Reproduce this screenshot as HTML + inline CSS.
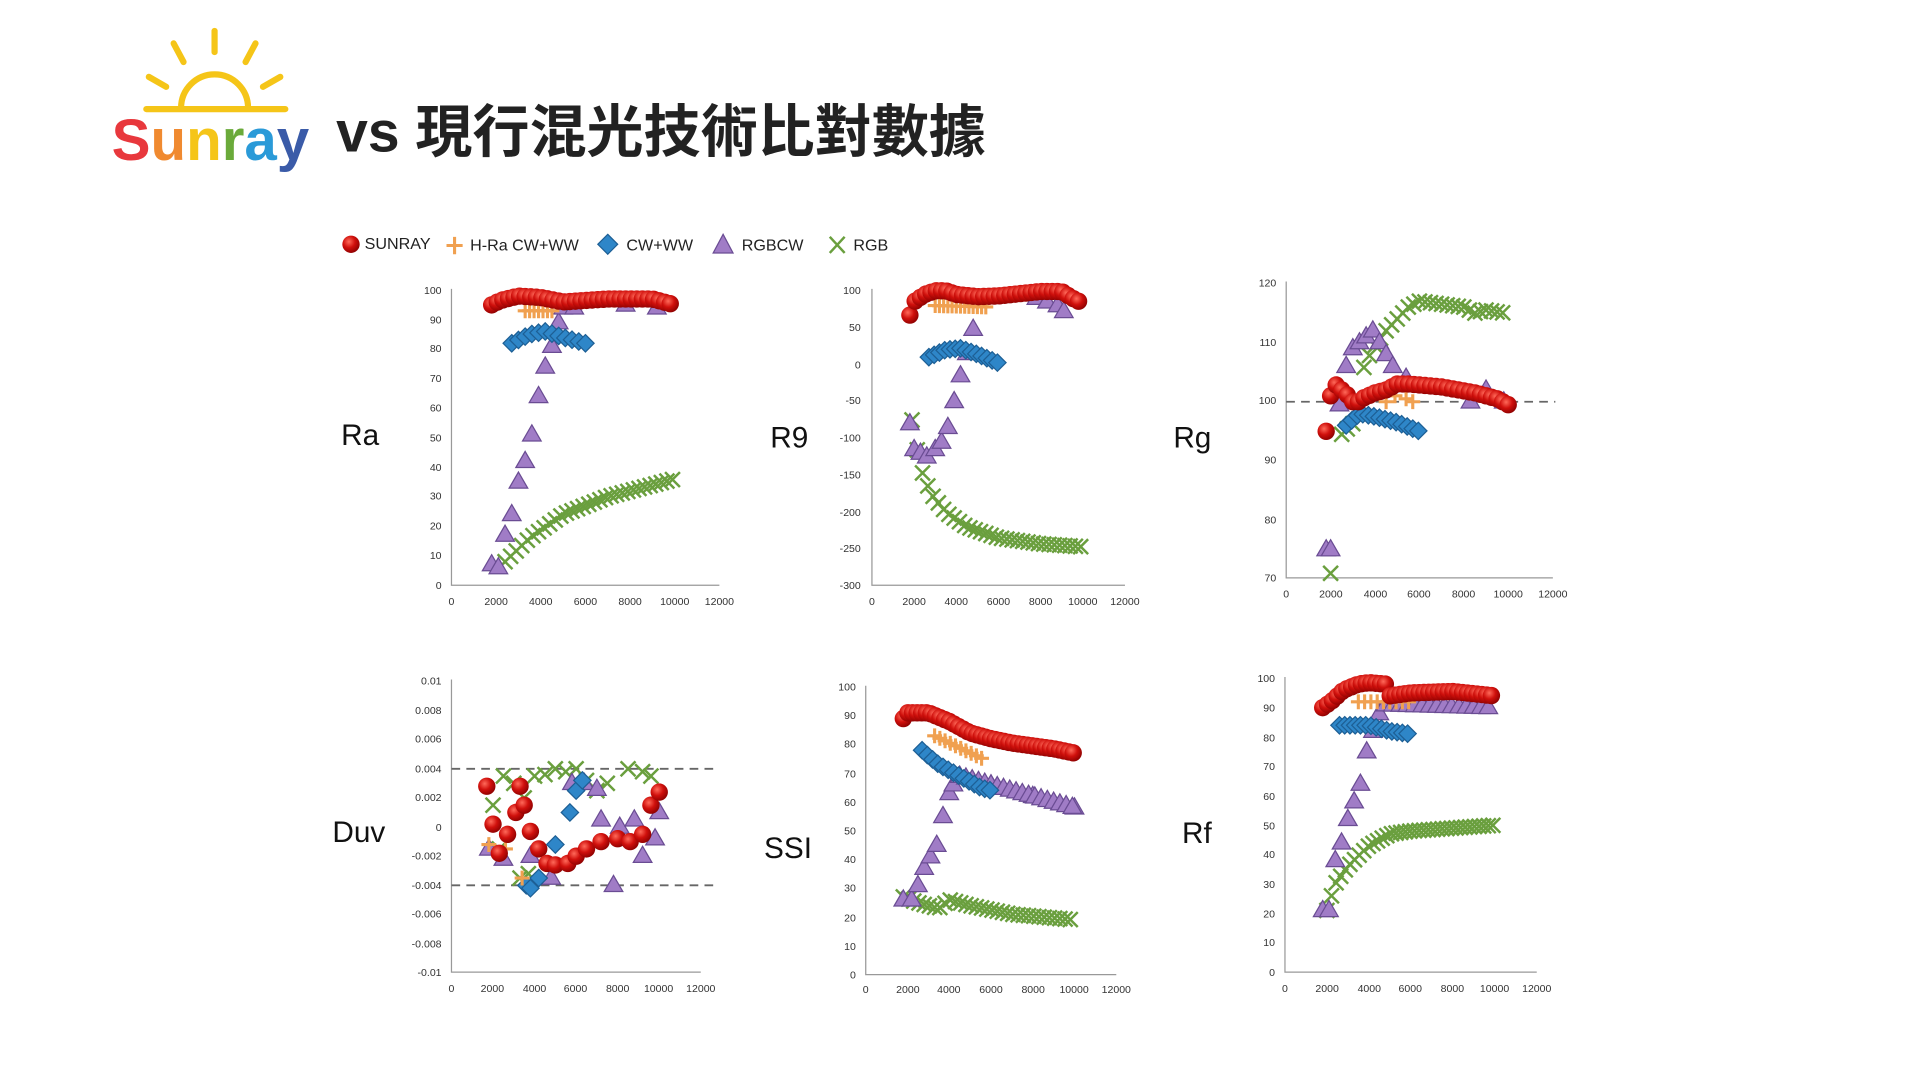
<!DOCTYPE html>
<html><head><meta charset="utf-8"><style>
html,body{margin:0;padding:0;background:#fff;width:1920px;height:1080px;overflow:hidden}
svg{display:block}
.t{font-family:"Liberation Sans",sans-serif;font-size:8.5px;fill:#333}
.e{text-anchor:end}
.m{text-anchor:middle}
.lab{font-family:"Liberation Sans",sans-serif;font-size:24px;fill:#111}
.lg{font-family:"Liberation Sans",sans-serif;font-size:13px;fill:#222}
</style></head><body>
<svg id="s" width="1920" height="1080" viewBox="0 0 1548 871" preserveAspectRatio="none" xmlns="http://www.w3.org/2000/svg">
<defs>
<radialGradient id="rg" cx="0.38" cy="0.35" r="0.7"><stop offset="0" stop-color="#ff6a5a"/><stop offset="0.5" stop-color="#d0100c"/><stop offset="1" stop-color="#8a0000"/></radialGradient>
</defs>
<g stroke="#f5c518" stroke-width="5" stroke-linecap="round" fill="none">
<line x1="173" y1="25" x2="173" y2="42"/><line x1="140" y1="35" x2="148" y2="50"/><line x1="206" y1="35" x2="198" y2="50"/>
<line x1="120" y1="62" x2="134" y2="70"/><line x1="226" y1="62" x2="212" y2="70"/>
<path d="M146 87 A27 27 0 0 1 200 87"/><line x1="118" y1="88" x2="230" y2="88"/>
</g>
<text x="90" y="129" font-family="Liberation Sans,sans-serif" font-weight="bold" font-size="47"><tspan fill="#e8383d">S</tspan><tspan fill="#f08a30">u</tspan><tspan fill="#f5c518">n</tspan><tspan fill="#6aaa3a">r</tspan><tspan fill="#2a9ad8">a</tspan><tspan fill="#3a5ba8">y</tspan></text>
<text x="271" y="122" font-family="Liberation Sans,'Noto Sans CJK TC',sans-serif" font-weight="bold" font-size="46" fill="#222">vs 現行混光技術比對數據</text>
<circle cx="283" cy="197" r="7" fill="url(#rg)"/><text class="lg" x="294" y="201" font-size="11">SUNRAY</text>
<path d="M360 198h13M366.5 191v14" stroke="#f0a050" stroke-width="2.5"/><text class="lg" x="379" y="202">H-Ra CW+WW</text>
<path d="M490 189l8 8-8 8-8-8z" fill="#2e86c8" stroke="#1d5f95"/><text class="lg" x="505" y="202">CW+WW</text>
<path d="M583 189l8 15h-16z" fill="#a07cc6" stroke="#6a4c93"/><text class="lg" x="598" y="202">RGBCW</text>
<path d="M669 191l12 13M681 191l-12 13" stroke="#6a9f3e" stroke-width="2"/><text class="lg" x="688" y="202">RGB</text>
<text class="lab" x="275" y="359">Ra</text><text class="lab" x="621" y="361">R9</text><text class="lab" x="946" y="361">Rg</text>
<text class="lab" x="268" y="679">Duv</text><text class="lab" x="616" y="692">SSI</text><text class="lab" x="953" y="680">Rf</text>
<g stroke="#999" stroke-width="1" fill="none">
<path d="M364 233V472H580"/><path d="M703 233V472H907"/><path d="M1037 227V466H1252"/>
<path d="M364 548V784H565"/><path d="M698 553V786H900"/><path d="M1036 546V784H1239"/>
</g>
<g stroke="#666" stroke-width="1.5" stroke-dasharray="7,5">
<path d="M1037 324H1254"/><path d="M364 620H575"/><path d="M364 714H575"/>
</g>
<g class="t e"><text x="356" y="237">100</text><text x="356" y="261">90</text><text x="356" y="284">80</text><text x="356" y="308">70</text><text x="356" y="332">60</text><text x="356" y="356">50</text><text x="356" y="380">40</text><text x="356" y="403">30</text><text x="356" y="427">20</text><text x="356" y="451">10</text><text x="356" y="475">0</text></g>
<g class="t m"><text x="364" y="488">0</text><text x="400" y="488">2000</text><text x="436" y="488">4000</text><text x="472" y="488">6000</text><text x="508" y="488">8000</text><text x="544" y="488">10000</text><text x="580" y="488">12000</text></g>
<g class="t e"><text x="694" y="237">100</text><text x="694" y="267">50</text><text x="694" y="297">0</text><text x="694" y="326">-50</text><text x="694" y="356">-100</text><text x="694" y="386">-150</text><text x="694" y="416">-200</text><text x="694" y="445">-250</text><text x="694" y="475">-300</text></g>
<g class="t m"><text x="703" y="488">0</text><text x="737" y="488">2000</text><text x="771" y="488">4000</text><text x="805" y="488">6000</text><text x="839" y="488">8000</text><text x="873" y="488">10000</text><text x="907" y="488">12000</text></g>
<g class="t e"><text x="1029" y="231">120</text><text x="1029" y="279">110</text><text x="1029" y="326">100</text><text x="1029" y="374">90</text><text x="1029" y="422">80</text><text x="1029" y="469">70</text></g>
<g class="t m"><text x="1037" y="482">0</text><text x="1073" y="482">2000</text><text x="1109" y="482">4000</text><text x="1144" y="482">6000</text><text x="1180" y="482">8000</text><text x="1216" y="482">10000</text><text x="1252" y="482">12000</text></g>
<g class="t e"><text x="356" y="552">0.01</text><text x="356" y="576">0.008</text><text x="356" y="599">0.006</text><text x="356" y="623">0.004</text><text x="356" y="646">0.002</text><text x="356" y="670">0</text><text x="356" y="693">-0.002</text><text x="356" y="717">-0.004</text><text x="356" y="740">-0.006</text><text x="356" y="764">-0.008</text><text x="356" y="787">-0.01</text></g>
<g class="t m"><text x="364" y="800">0</text><text x="397" y="800">2000</text><text x="431" y="800">4000</text><text x="464" y="800">6000</text><text x="498" y="800">8000</text><text x="531" y="800">10000</text><text x="565" y="800">12000</text></g>
<g class="t e"><text x="690" y="557">100</text><text x="690" y="580">90</text><text x="690" y="603">80</text><text x="690" y="627">70</text><text x="690" y="650">60</text><text x="690" y="673">50</text><text x="690" y="696">40</text><text x="690" y="719">30</text><text x="690" y="743">20</text><text x="690" y="766">10</text><text x="690" y="789">0</text></g>
<g class="t m"><text x="698" y="801">0</text><text x="732" y="801">2000</text><text x="765" y="801">4000</text><text x="799" y="801">6000</text><text x="833" y="801">8000</text><text x="866" y="801">10000</text><text x="900" y="801">12000</text></g>
<g class="t e"><text x="1028" y="550">100</text><text x="1028" y="574">90</text><text x="1028" y="598">80</text><text x="1028" y="621">70</text><text x="1028" y="645">60</text><text x="1028" y="669">50</text><text x="1028" y="692">40</text><text x="1028" y="716">30</text><text x="1028" y="740">20</text><text x="1028" y="763">10</text><text x="1028" y="787">0</text></g>
<g class="t m"><text x="1036" y="800">0</text><text x="1070" y="800">2000</text><text x="1104" y="800">4000</text><text x="1137" y="800">6000</text><text x="1171" y="800">8000</text><text x="1205" y="800">10000</text><text x="1239" y="800">12000</text></g>
<g id="pts"></g>
</svg>
<script>
var NS="http://www.w3.org/2000/svg",G=document.getElementById("pts");
function el(t,a){var e=document.createElementNS(NS,t);for(var k in a)e.setAttribute(k,a[k]);G.appendChild(e);}
function mk(type,x,y){
 if(type=="c")el("circle",{cx:x,cy:y,r:7,fill:"url(#rg)"});
 else if(type=="t")el("path",{d:"M"+x+" "+(y-8)+"l7.5 13h-15z",fill:"#a07cc6",stroke:"#6a4c93","stroke-width":1});
 else if(type=="d")el("path",{d:"M"+x+" "+(y-7)+"l7 7-7 7-7-7z",fill:"#2e86c8",stroke:"#1d5f95","stroke-width":1});
 else if(type=="x")el("path",{d:"M"+(x-6)+" "+(y-6)+"l12 12M"+(x+6)+" "+(y-6)+"l-12 12",stroke:"#6a9f3e","stroke-width":2});
 else if(type=="p")el("path",{d:"M"+(x-6)+" "+y+"h12M"+x+" "+(y-6)+"v12",stroke:"#f0a050","stroke-width":2.5});
}
function interp(p,step){if(!step)return p;var o=[];for(var x=p[0][0];x<=p[p.length-1][0]+1;x+=step){for(var i=0;i<p.length-1&&p[i+1][0]<x;i++);var a=p[i],b=p[Math.min(i+1,p.length-1)];var f=b[0]==a[0]?0:(x-a[0])/(b[0]-a[0]);o.push([x,a[1]+(b[1]-a[1])*f]);}return o;}
function chart(c,series){series.forEach(function(s){interp(s[1],s[2]).forEach(function(p){mk(s[0],c.x0+p[0]*c.sx,c.y0-(p[1]-c.v0)*c.sy);});});}
chart({x0:364,sx:0.018,y0:472,v0:0,sy:2.38},[
["x",[[2400,8],[3500,16],[5000,24],[7000,30],[10000,36]],250],
["t",[[1800,7],[2100,6],[2400,17],[2700,24],[3000,35],[3300,42],[3600,51],[3900,64],[4200,74],[4500,81],[4800,89],[5000,94],[5500,94],[7800,95],[9200,94]],0],
["d",[[2700,82],[3500,85],[4200,86],[5000,84],[6000,82]],300],
["p",[[3300,93],[4500,93]],200],
["c",[[1800,95],[2200,96.5],[3000,98],[4000,97.5],[5000,96],[7000,97],[9000,97],[10000,95]],250]]);
chart({x0:703,sx:0.017,y0:294,v0:0,sy:0.595},[
["x",[[1900,-75],[2300,-140],[2800,-175],[3500,-200],[4500,-220],[6000,-235],[8000,-243],[10000,-247]],250],
["t",[[1800,-80],[2000,-115],[2300,-120],[2600,-125],[3000,-115],[3300,-105],[3600,-85],[3900,-50],[4200,-15],[4500,15],[4800,48],[7800,90],[8300,85],[8800,80],[9100,72]],0],
["d",[[2700,10],[3500,20],[4200,22],[5000,14],[6000,2]],250],
["p",[[3000,80],[5500,78]],200],
["c",[[1800,67],[2000,85],[2500,95],[3000,100],[3500,100],[4000,95],[5000,92],[6000,93],[7000,96],[8000,99],[9000,99],[9500,90],[10000,83]],250]]);
chart({x0:1037,sx:0.0179,y0:324,v0:100,sy:4.77},[
["x",[[2000,71]],0],
["x",[[2500,94.5],[3200,97],[3400,105],[3900,109],[4500,112],[5000,114],[5500,116],[6000,117],[7000,116.5],[8000,116],[8500,115],[9000,115.5],[9800,115]],250],
["t",[[1800,75],[2000,75],[2400,99.5],[2700,106],[3000,109],[3300,110],[3600,111],[3900,112],[4200,110],[4500,108],[4800,106],[5400,104],[8300,100],[9000,102],[9800,100]],0],
["d",[[2700,96],[3300,98],[4000,97.5],[5000,96.5],[6000,95]],250],
["p",[[4500,100],[4900,101],[5400,100.5],[5700,100]],0],
["c",[[1800,95]],0],
["c",[[2000,101],[2200,103],[2500,102],[2800,101],[3100,99.5],[3400,100.5],[3700,101],[4000,101.5],[4500,102],[5000,103],[5500,103],[7000,102.5],[8500,101.5],[9500,100.5],[10000,99.5]],250]]);
chart({x0:364,sx:0.01675,y0:667,v0:0,sy:11.75},[
["x",[[2000,1.5],[2500,3.5],[3000,3],[3500,2],[4000,3.5],[4500,3.6],[5000,4],[5500,3.8],[6000,4],[6500,3.2],[7000,2.5],[7500,3],[8500,4],[9200,3.8],[9600,3.5],[2300,-1.5],[3300,-3.5],[3700,-3.2]],0],
["t",[[1800,-1.5],[2500,-2.2],[3800,-2],[4800,-3.5],[5800,3],[6400,3],[7000,2.6],[7200,0.5],[7800,-4],[8100,0],[8800,0.5],[9200,-2],[9800,-0.8],[10000,1]],0],
["d",[[3600,-4],[3800,-4.2],[4200,-3.5],[5000,-1.2],[5700,1],[6000,2.5],[6300,3.2]],0],
["p",[[1800,-1.2],[2600,-1.5],[3400,-3.5]],0],
["c",[[1700,2.8],[2000,0.2],[2300,-1.8],[2700,-0.5],[3100,1],[3300,2.8],[3500,1.5],[3800,-0.3],[4200,-1.5],[4600,-2.5],[5000,-2.6],[5600,-2.5],[6000,-2],[6500,-1.5],[7200,-1],[8000,-0.8],[8600,-1],[9200,-0.5],[9600,1.5],[10000,2.4]],0]]);
chart({x0:698,sx:0.01683,y0:786,v0:0,sy:2.32},[
["x",[[1800,27],[2500,25],[3500,23],[4000,26],[5000,24],[7000,21],[10000,19]],250],
["t",[[1800,26],[2200,26],[2500,31],[2800,37],[3100,41],[3400,45],[3700,55],[4000,63],[4200,66],[4500,69],[6000,66],[8000,62],[10000,58]],0],
["t",[[4500,69],[10000,58]],300],
["d",[[2700,78],[3000,76],[3500,73],[4000,71],[4500,69],[5000,67],[5500,65],[6000,64]],250],
["p",[[3300,83],[5600,75]],250],
["c",[[1800,89],[2000,91],[3000,91],[4000,88],[5000,84],[6000,82],[7000,80.5],[8000,79.5],[9000,78.5],[10000,77]],220]]);
chart({x0:1036,sx:0.0169,y0:784,v0:0,sy:2.37},[
["x",[[2000,21],[2400,30],[3000,36],[4000,43],[5000,47],[6000,48],[8000,49],[10000,50]],220],
["t",[[1800,21],[2100,21],[2400,38],[2700,44],[3000,52],[3300,58],[3600,64],[3900,75],[4200,82],[4500,88],[4800,91]],0],
["t",[[4800,91],[10000,90]],350],
["d",[[2600,84],[4000,84],[5000,82],[6000,81]],250],
["p",[[3500,92],[6000,92]],300],
["c",[[1800,90],[2200,92],[2800,96],[3500,98],[4000,98.5],[4800,98],[5000,94],[6000,95],[8000,95.5],[10000,94]],230]]);
</script>
</body></html>
